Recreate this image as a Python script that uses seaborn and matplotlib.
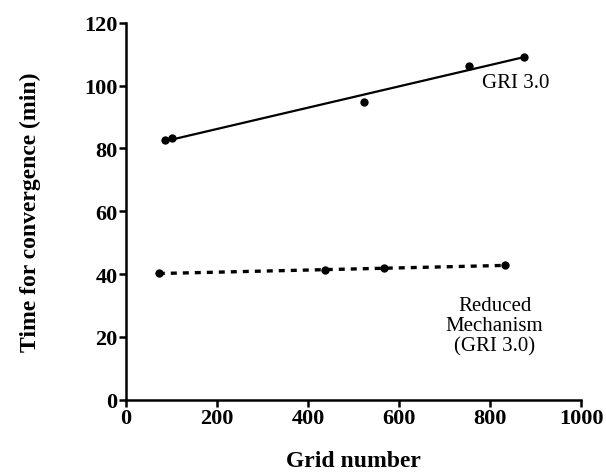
import matplotlib
matplotlib.use("Agg")
import matplotlib.pyplot as plt
import seaborn as sns
import pandas as pd

gri_grid = [86, 102, 522, 753, 874]
gri_time = [82.7, 83.4, 94.7, 106.4, 109.2]
red_grid = [72, 437, 566, 833]
red_time = [40.3, 41.2, 41.8, 42.9]
x_ticks = [0, 200, 400, 600, 800, 1000]
y_ticks = [0, 20, 40, 60, 80, 100, 120]

sns.set_style("ticks")
plt.rcParams['font.family'] = ['Liberation Serif', 'DejaVu Serif']
plt.rcParams['text.color'] = 'black'
plt.rcParams['axes.labelcolor'] = 'black'
plt.rcParams['xtick.color'] = 'black'
plt.rcParams['ytick.color'] = 'black'

gri = pd.DataFrame({"grid": gri_grid, "time": gri_time})
red = pd.DataFrame({"grid": red_grid, "time": red_time})

fig = plt.figure(figsize=(6.06, 4.77), dpi=100)
ax = fig.add_axes([0.208, 0.160, 0.751, 0.790])

sns.regplot(data=gri, x="grid", y="time", ax=ax, ci=None, scatter=False,
            truncate=True, line_kws=dict(color="black", lw=1.6))
sns.regplot(data=red, x="grid", y="time", ax=ax, ci=None, scatter=False,
            truncate=True, line_kws=dict(color="black", lw=2.4, ls=(0, (1.8, 1.8))))
sns.scatterplot(data=gri, x="grid", y="time", ax=ax, color="black", s=36,
                edgecolor="black", linewidth=0, zorder=5)
sns.scatterplot(data=red, x="grid", y="time", ax=ax, color="black", s=36,
                edgecolor="black", linewidth=0, zorder=5)

ax.set_xlim(0, 1000)
ax.set_ylim(0, 120)
ax.set_xticks(x_ticks)
ax.set_yticks(y_ticks)
ax.set_xticklabels([str(t) for t in x_ticks], fontsize=16, fontweight="bold")
ax.set_yticklabels([str(t) for t in y_ticks], fontsize=16, fontweight="bold")
ax.tick_params(direction="out", length=5, width=1.8, pad=1, color="black",
               labelcolor="black")
for s in ["left", "bottom"]:
    ax.spines[s].set_linewidth(1.8)
    ax.spines[s].set_color("black")
sns.despine(ax=ax)

ax.set_xlabel("Grid number", fontsize=17, fontweight="bold", labelpad=16, color="black")
ax.set_ylabel("Time for convergence (min)", fontsize=17, fontweight="bold", labelpad=31,
              color="black")

ax.text(857, 101, "GRI 3.0", fontsize=15, ha="center", va="center", color="black")
ax.text(810, 23.5, "Reduced\nMechanism\n(GRI 3.0)", fontsize=15, ha="center",
        va="center", linespacing=1.1, color="black")

fig.savefig("out.png", dpi=100)
